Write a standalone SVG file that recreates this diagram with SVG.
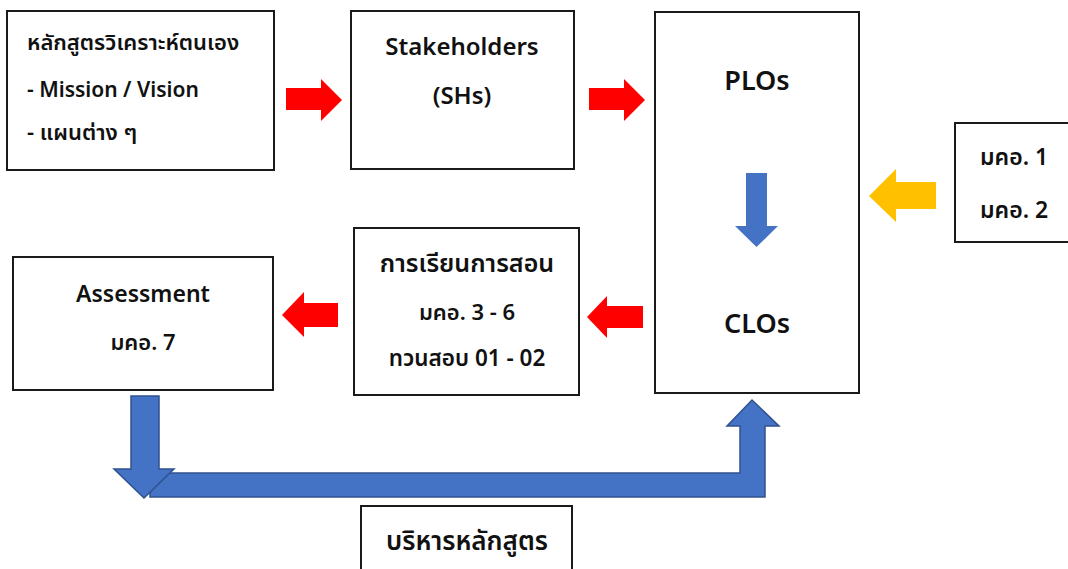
<svg xmlns="http://www.w3.org/2000/svg" width="1068" height="569" viewBox="0 0 1068 569">
<style>
.box{fill:#fff;stroke:#1a1a1a;stroke-width:2}
.t{font-family:"Noto Sans","Noto Sans Thai","Leelawadee UI",Tahoma,"DejaVu Sans",sans-serif;fill:#111;font-weight:600}
.c{text-anchor:middle}
.red{fill:#ff0000}
.blue{fill:#4472c4}
.blueo{fill:#4472c4;stroke:#2f528f;stroke-width:1.5;stroke-linejoin:miter}
.yellow{fill:#ffc000}
</style>
<rect width="1068" height="569" fill="#fff"/>
<g id="connectors">
<polygon class="red" points="286,88 321,88 321,79 342,100 321,121 321,110 286,110"/>
<polygon class="red" points="589,88 624,88 624,79 645,100 624,121 624,110 589,110"/>
<polygon class="red" points="338,303 304,303 304,292 282,315 304,337 304,327 338,327"/>
<polygon class="red" points="643,306 607,306 607,296 587,317 607,338 607,328 643,328"/>
<polygon class="yellow" points="869,196 896,169 896,182 936,182 936,209 896,209 896,222"/>
<polygon class="blueo" points="150,473 740,473 740,426 727,426 752,400 779,426 765,426 765,497 150,497"/>
<polygon class="blueo" points="131,396 159,396 159,469 174,469 144,498 114,469 131,469"/>
</g>
<g id="n-self">
<rect class="box" x="7" y="11" width="267" height="159"/>
<text class="t" x="27" y="50" font-size="22">หลักสูตรวิเคราะห์ตนเอง</text>
<text class="t" x="27" y="97" font-size="21">- Mission / Vision</text>
<text class="t" x="27" y="140" font-size="22">- แผนต่าง ๆ</text>
</g>
<g id="n-sh">
<rect class="box" x="351" y="11" width="223" height="158"/>
<text class="t c" x="462" y="55" font-size="24">Stakeholders</text>
<text class="t c" x="462" y="104" font-size="24">(SHs)</text>
</g>
<g id="n-plo">
<rect class="box" x="655" y="12" width="204" height="381"/>
<text class="t c" x="757" y="90" font-size="27">PLOs</text>
<polygon class="blue" points="746,173 767,173 767,226 778,226 756.5,247 735,226 746,226"/>
<text class="t c" x="757" y="333" font-size="27">CLOs</text>
</g>
<g id="n-tqf">
<rect class="box" x="955" y="123" width="120" height="119"/>
<text class="t" x="980" y="165" font-size="23">มคอ. 1</text>
<text class="t" x="980" y="218" font-size="23">มคอ. 2</text>
</g>
<g id="n-teach">
<rect class="box" x="354" y="228" width="225" height="167"/>
<text class="t c" x="467" y="272" font-size="25">การเรียนการสอน</text>
<text class="t c" x="467" y="320" font-size="22">มคอ. 3 - 6</text>
<text class="t c" x="467" y="366" font-size="22.5">ทวนสอบ 01 - 02</text>
</g>
<g id="n-assess">
<rect class="box" x="13" y="257" width="260" height="133"/>
<text class="t c" x="143" y="302" font-size="23">Assessment</text>
<text class="t c" x="143" y="350" font-size="22">มคอ. 7</text>
</g>
<g id="n-admin">
<rect class="box" x="361" y="506" width="211" height="70"/>
<text class="t c" x="467" y="550" font-size="26">บริหารหลักสูตร</text>
</g>
</svg>
